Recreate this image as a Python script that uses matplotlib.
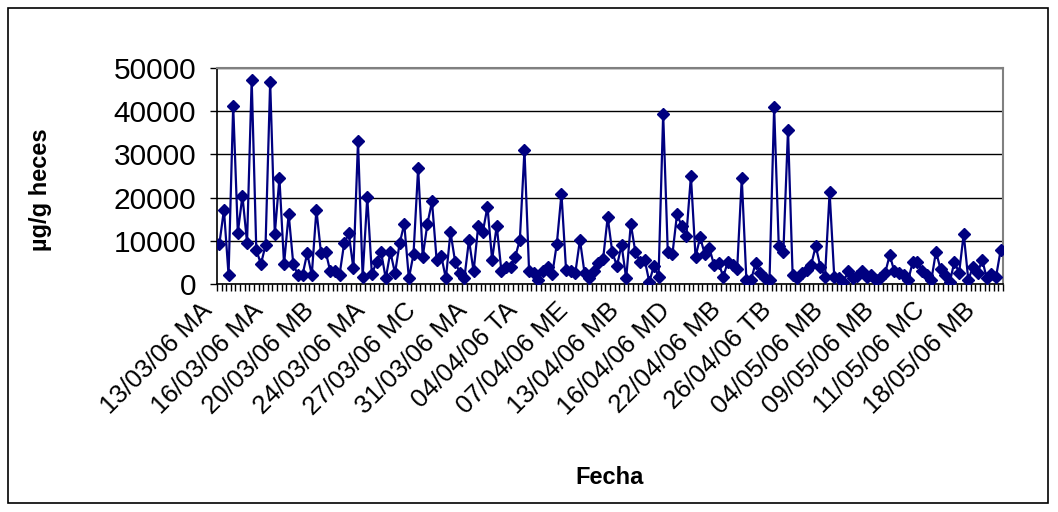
import numpy as np
import matplotlib
matplotlib.use('Agg')
import matplotlib.pyplot as plt
import matplotlib.transforms as mtransforms
from matplotlib.patches import Rectangle

plt.rcParams['font.family'] = ['Liberation Sans', 'DejaVu Sans']

# µg/g de heces por muestra (170 muestras)
valores = [
    9200, 17200, 2100, 41300, 11900, 20400, 9600, 47300, 7900, 4600,
    9000, 46800, 11600, 24500, 4600, 16200, 4600, 2100, 2100, 7100,
    2100, 17200, 7100, 7500, 2900, 2900, 2100, 9400, 11700, 3600,
    33000, 1700, 20100, 2200, 5200, 7300, 1300, 7400, 2500, 9400,
    13900, 1300, 6900, 26800, 6300, 13900, 19100, 5600, 6500, 1300,
    12000, 5200, 2600, 1300, 10200, 2900, 13500, 12100, 17900, 5600,
    13500, 3100, 3900, 3900, 6300, 10200, 31000, 2900, 2600, 900,
    3000, 3900, 2200, 9300, 20900, 3200, 2900, 2600, 10200, 2500,
    1300, 3100, 4800, 5700, 15500, 7300, 4200, 9000, 1300, 13900,
    7300, 5200, 5600, 500, 4200, 1700, 39400, 7300, 6900, 16200,
    13400, 11000, 25000, 6300, 10800, 6900, 8300, 4400, 4800, 1700,
    5200, 4400, 3400, 24500, 900, 900, 4900, 2600, 1300, 900,
    40900, 8800, 7500, 35700, 2100, 1300, 2500, 3200, 4400, 8800,
    4000, 1700, 21200, 1700, 1300, 500, 2900, 1300, 1900, 2900,
    1700, 2100, 900, 1300, 2500, 6700, 2900, 2500, 2100, 900,
    5200, 5200, 2900, 2100, 900, 7500, 3400, 2100, 500, 5200,
    2500, 11600, 900, 4000, 2500, 5600, 1300, 2300, 1700, 7900,
]

etiquetas = ['13/03/06 MA', '16/03/06 MA', '20/03/06 MB', '24/03/06 MA',
             '27/03/06 MC', '31/03/06 MA', '04/04/06 TA', '07/04/06 ME',
             '13/04/06 MB', '16/04/06 MD', '22/04/06 MB', '26/04/06 TB',
             '04/05/06 MB', '09/05/06 MB', '11/05/06 MC', '18/05/06 MB']
paso_etiqueta = 11

n = len(valores)
x = np.arange(n)
navy = '#000080'

fig = plt.figure(figsize=(10.58, 5.12), dpi=100)
ax = fig.add_axes([217/1058, 1-284/512, (1003-217)/1058, (284-68)/512])

ax.plot(x, valores, color=navy, lw=1.6, marker='D', ms=6.6,
        markerfacecolor=navy, markeredgecolor=navy, zorder=3)

ax.set_xlim(-0.5, n - 0.5)
ax.set_ylim(0, 50000)
ax.set_yticks(np.arange(0, 50001, 10000))
ax.yaxis.grid(True, color='black', lw=1.0)
ax.set_axisbelow(True)

ax.set_xticks(np.arange(len(etiquetas)) * paso_etiqueta)
ax.set_xticklabels(etiquetas, rotation=45, ha='right', va='top',
                   rotation_mode='anchor', fontsize=18.5)
ax.set_xticks(np.arange(-0.5, n, 1.0), minor=True)
ax.tick_params(axis='x', which='major', length=0, pad=10)
ax.tick_params(axis='x', which='minor', length=5, width=1, color='black')
ax.tick_params(axis='y', length=5, width=1, labelsize=21.5, pad=10)

# las etiquetas de Excel quedan algo más a la izquierda del tick
desplaza = mtransforms.ScaledTranslation(-19/100, 0, fig.dpi_scale_trans)
for lab in ax.get_xticklabels():
    lab.set_transform(lab.get_transform() + desplaza)

for s in ['top', 'right']:
    ax.spines[s].set_color('#808080')
    ax.spines[s].set_linewidth(1.5)
for s in ['left', 'bottom']:
    ax.spines[s].set_color('black')
    ax.spines[s].set_linewidth(1.2)

fig.text(40/1058, 1-190/512, 'µg/g heces', rotation=90, ha='center',
         va='center', fontsize=17, fontweight='bold')
fig.text(610/1058, 1-477/512, 'Fecha', ha='center', va='center',
         fontsize=17, fontweight='bold')

fig.patches.append(Rectangle((8/1058, 1-503/512), 1040/1058, 495/512,
                             transform=fig.transFigure, fill=False,
                             edgecolor='black', lw=1.2))

fig.savefig('out.png', dpi=100)
